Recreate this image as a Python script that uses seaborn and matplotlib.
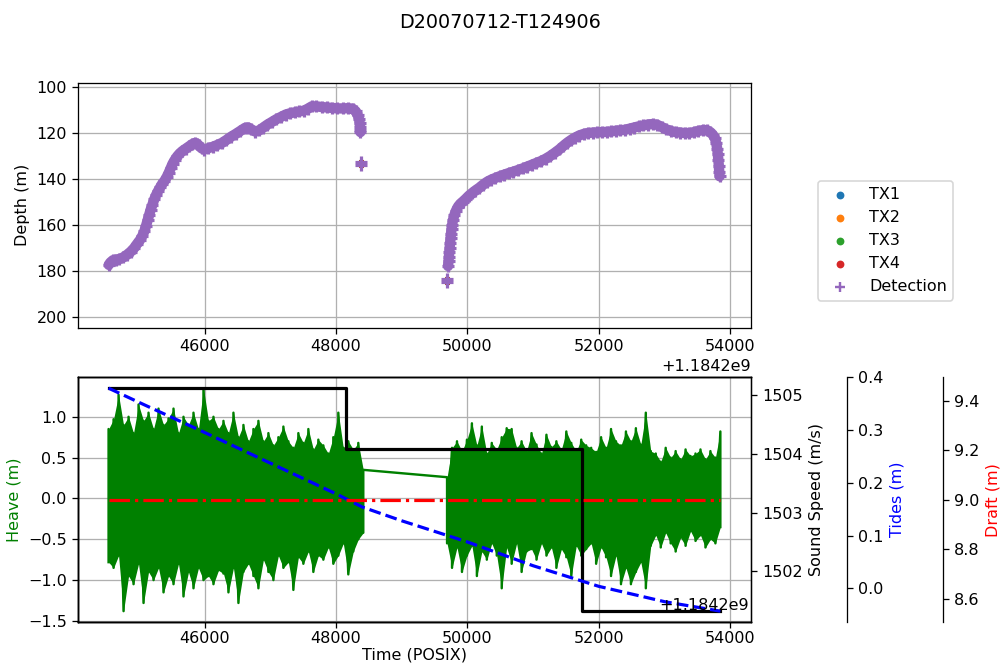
import numpy as np
import pandas as pd
import matplotlib
matplotlib.use("Agg")
import matplotlib.pyplot as plt
import seaborn as sns

TITLE = "D20070712-T124906"
OFFSET_LABEL = "+1.1842e9"   # times below are seconds after 1.1842e9 (POSIX)

# ---------------- depth profile (top panel) ----------------
seg1_t = [44537, 44560, 44600, 44650, 44700, 44760, 44820, 44870, 44920, 44970,
          45010, 45050, 45080, 45105, 45130, 45150, 45175, 45200, 45230, 45260,
          45290, 45320, 45350, 45385, 45420, 45450, 45480, 45510, 45540, 45580,
          45620, 45660, 45710, 45760, 45810, 45850, 45880, 45910, 45950, 45990,
          46050, 46120, 46190, 46260, 46330, 46400, 46470, 46540, 46610, 46660,
          46710, 46770, 46830, 46890, 46950, 47020, 47090, 47160, 47230, 47300,
          47370, 47440, 47510, 47570, 47630, 47700, 47780, 47860, 47940, 48020,
          48100, 48180, 48250, 48300, 48330, 48350, 48360, 48365, 48368, 48370]
seg1_depth = [177.5, 176.5, 175.5, 175.2, 175.0, 174.2, 173.0, 171.8, 170.3, 168.3,
              166.8, 164.8, 162.8, 160.5, 158.0, 156.0, 153.5, 151.5, 149.0, 147.0,
              145.3, 143.8, 142.3, 141.0, 139.3, 137.5, 135.5, 133.5, 132.0, 130.3,
              129.0, 128.0, 127.0, 126.0, 125.0, 124.5, 124.8, 125.6, 126.8, 127.4,
              126.8, 126.2, 125.4, 124.5, 123.2, 121.8, 120.6, 119.3, 118.0, 117.8,
              118.6, 119.6, 119.0, 117.8, 116.6, 115.4, 114.2, 113.2, 112.2, 111.6,
              111.2, 110.8, 110.5, 109.6, 108.6, 108.6, 108.9, 109.1, 109.3, 109.5,
              109.5, 109.4, 109.6, 110.8, 112.4, 114.2, 116.0, 117.5, 118.8, 119.8]
clusterA_t = [48381, 48384]
clusterA_depth = [132.8, 134.2]
clusterB_t = [49688, 49692]
clusterB_depth = [185.0, 183.6]
seg2_t = [49705, 49712, 49718, 49724, 49730, 49736, 49743, 49750,
          49758, 49768, 49780, 49800, 49825, 49855, 49890, 49930, 49975, 50020,
          50070, 50120, 50180, 50240, 50300, 50360, 50420, 50490, 50560, 50630,
          50700, 50770, 50840, 50910, 50980, 51050, 51120, 51190, 51260, 51330,
          51400, 51460, 51520, 51580, 51640, 51700, 51770, 51840, 51910, 51980,
          52050, 52120, 52190, 52260, 52330, 52400, 52470, 52540, 52610, 52680,
          52750, 52820, 52890, 52960, 53030, 53100, 53170, 53240, 53310, 53380,
          53450, 53520, 53590, 53650, 53700, 53740, 53770, 53790, 53805, 53815,
          53823, 53830, 53836, 53842]
seg2_depth = [178.0, 176.0, 174.0, 172.0, 170.0, 168.0, 166.0, 164.0,
              162.0, 160.0, 158.0, 156.0, 154.0, 152.3, 151.0, 150.0, 148.8, 147.5,
              146.3, 145.2, 144.0, 142.6, 141.4, 140.5, 139.8, 139.0, 138.3, 137.6,
              137.0, 136.3, 135.6, 134.8, 134.0, 133.2, 132.4, 131.4, 130.2, 128.8,
              127.3, 125.8, 124.4, 123.2, 122.2, 121.3, 120.6, 120.2, 120.0, 119.9,
              119.8, 119.7, 119.5, 119.2, 119.0, 118.8, 118.3, 117.8, 117.3, 116.9,
              116.5, 116.3, 116.6, 117.6, 118.6, 119.3, 119.8, 120.0, 120.2, 120.2,
              119.8, 119.3, 118.9, 119.0, 119.8, 121.0, 122.5, 124.5, 127.0, 129.5,
              132.0, 134.5, 137.0, 139.0]
tx_labels = ["TX1", "TX2", "TX3", "TX4"]
tx_colors = ["#1f77b4", "#ff7f0e", "#2ca02c", "#d62728"]
DET_COLOR = "#9467bd"

# ---------------- heave (bottom panel, per-column envelope peaks) ----------------
heave1_span = [44534, 48414]
heave1_hi = [0.85, 0.97, 1.27, 0.90, 1.00, 0.80, 1.15, 0.95, 1.05, 0.85,
             1.10, 0.90, 0.98, 1.10, 0.80, 1.00, 0.90, 1.05, 0.85, 1.35,
             0.95, 1.00, 0.85, 0.95, 0.80, 1.05, 0.75, 0.90, 0.70, 0.85,
             0.95, 0.70, 0.80, 0.65, 0.75, 0.88, 0.70, 0.62, 0.80, 0.68,
             0.85, 0.60, 0.72, 0.65, 0.55, 0.75, 1.05, 0.62, 0.70, 0.60,
             0.68, 0.35]
heave1_lo = [-0.78, -0.85, -0.70, -1.38, -0.95, -1.05, -0.80, -1.28, -0.90, -1.00,
             -0.85, -1.15, -0.95, -1.05, -0.80, -1.20, -0.90, -1.10, -0.85, -1.00,
             -0.95, -1.05, -0.88, -0.92, -1.15, -0.85, -1.28, -0.90, -0.80, -0.95,
             -1.10, -0.75, -0.90, -1.00, -0.70, -0.85, -0.78, -1.12, -0.72, -0.80,
             -0.65, -0.90, -0.70, -0.75, -0.60, -0.80, -0.70, -0.55, -0.93, -0.65,
             -0.50, -0.42]
heave2_span = [49690, 53853]
heave2_hi = [0.26, 0.62, 0.70, 0.58, 0.72, 0.92, 0.65, 0.88, 0.55, 0.68,
             0.60, 0.75, 0.86, 0.85, 0.62, 0.70, 0.58, 0.80, 0.66, 0.55,
             0.78, 0.63, 0.70, 0.60, 0.82, 0.68, 0.58, 0.72, 0.65, 0.62,
             0.57, 0.75, 0.62, 0.85, 0.70, 0.65, 0.82, 0.70, 0.86, 0.66,
             1.05, 0.58, 0.55, 0.45, 0.62, 0.50, 0.58, 0.48, 0.60, 0.52,
             0.55, 0.60, 0.48, 0.58, 0.50, 0.82]
heave2_lo = [-0.55, -0.85, -0.60, -0.90, -0.70, -0.58, -0.95, -0.65, -0.75, -0.55,
             -0.70, -1.10, -0.60, -0.80, -0.55, -0.90, -0.65, -0.62, -0.75, -0.55,
             -0.70, -0.60, -0.85, -0.62, -0.72, -0.95, -0.58, -0.70, -0.62, -0.55,
             -0.80, -0.60, -0.72, -0.95, -0.70, -1.05, -0.85, -1.05, -0.90, -0.78,
             -1.10, -0.58, -0.45, -0.60, -0.42, -0.55, -0.65, -0.48, -0.58, -0.40,
             -0.52, -0.45, -0.60, -0.50, -0.55, -0.35]

# ---------------- sound speed, tides, draft ----------------
ss_t = [44534, 48149, 51739, 53853]
ss_v = [1505.12, 1504.09, 1501.32, 1501.32]
tide_t = [44534, 45000, 46000, 47000, 48000, 48400, 49000, 50000, 51000, 52000, 53000, 53853]
tide_v = [0.379, 0.352, 0.295, 0.237, 0.179, 0.154, 0.128, 0.088, 0.043, 0.004, -0.025, -0.043]
draft_t = [44534, 53853]
draft_v = [9.0, 9.0]

# ---------------- figure ----------------
DPI = 115
fig = plt.figure(figsize=(1001 / DPI, 666 / DPI), dpi=DPI)
fig.suptitle(TITLE, fontsize=12)

ax1 = fig.add_axes([0.0779, 0.508, 0.6723, 0.3679])
ax2 = fig.add_axes([0.0779, 0.0656, 0.6723, 0.3683], sharex=ax1)

all_t = seg1_t + clusterA_t + clusterB_t + seg2_t
all_d = seg1_depth + clusterA_depth + clusterB_depth + seg2_depth
depth_df = pd.DataFrame({"t": all_t, "depth": all_d})

# dense detection track (thousands of overlapping detections form a solid band)
for tt, dd in [(seg1_t, seg1_depth), (seg2_t, seg2_depth)]:
    sns.lineplot(x=tt, y=dd, ax=ax1, color=DET_COLOR, lw=6.5, sort=False,
                 estimator=None, solid_capstyle="round", solid_joinstyle="round",
                 zorder=2.5)

for lab, col in zip(tx_labels, tx_colors):
    sns.scatterplot(data=depth_df, x="t", y="depth", ax=ax1, color=col, s=14,
                    linewidth=0, label=lab, zorder=2)
sns.scatterplot(data=depth_df, x="t", y="depth", ax=ax1, color=DET_COLOR, s=62,
                marker="+", linewidth=2.0, label="Detection", zorder=3)
ax1.set_ylim(204.8, 98.3)
ax1.set_xlim(44068, 54319)
ax1.set_ylabel("Depth (m)")
ax1.set_xlabel("")
ax1.grid(True)
ax1.set_axisbelow(True)
ax1.tick_params(labelbottom=True)
handles, labels = ax1.get_legend_handles_labels()
keep = [i for i, l in enumerate(labels) if l in tx_labels + ["Detection"]]
leg = ax1.legend([handles[i] for i in keep], [labels[i] for i in keep],
                 loc="center left", bbox_to_anchor=(1.0996, 0.355), borderaxespad=0)
for h in leg.legend_handles[:4]:
    h.set_sizes([24])
leg.legend_handles[4].set_sizes([45])
leg.legend_handles[4].set_linewidths([1.5])
ax1.text(1.0, -0.16, OFFSET_LABEL, transform=ax1.transAxes, ha="right", va="center")


def build(span, first, second):
    cols = np.linspace(span[0], span[1], len(first))
    vals = np.ravel(np.column_stack([first, second]))
    return cols, np.repeat(cols, 2), vals


c1, t1, v1 = build(heave1_span, heave1_lo, heave1_hi)
c2, t2, v2 = build(heave2_span, heave2_hi, heave2_lo)
ax2.fill_between(c1, heave1_lo, heave1_hi, color="green", lw=0, zorder=2)
ax2.fill_between(c2, heave2_lo, heave2_hi, color="green", lw=0, zorder=2)
heave_df = pd.DataFrame({"t": np.concatenate([t1, t2]), "heave": np.concatenate([v1, v2])})
sns.lineplot(data=heave_df, x="t", y="heave", ax=ax2, color="green", lw=1.5,
             sort=False, estimator=None, zorder=2.2)
ax2.set_ylabel("Heave (m)", color="green")
ax2.set_xlabel("Time (POSIX)", labelpad=1)
ax2.tick_params(axis="x", pad=2)
ax2.grid(True)

ax_ss = ax2.twinx()
sns.lineplot(x=ss_t, y=ss_v, ax=ax_ss, color="black", lw=2, drawstyle="steps-post",
             estimator=None)
ax_ss.set_ylabel("Sound Speed (m/s)", color="black")

ax_tide = ax2.twinx()
ax_tide.spines["right"].set_position(("outward", 60))
sns.lineplot(x=tide_t, y=tide_v, ax=ax_tide, color="blue", lw=2, linestyle="--",
             estimator=None)
ax_tide.set_ylabel("Tides (m)", color="blue")

ax_draft = ax2.twinx()
ax_draft.spines["right"].set_position(("outward", 120))
sns.lineplot(x=draft_t, y=draft_v, ax=ax_draft, color="red", lw=2, linestyle="-.",
             estimator=None)
ax_draft.set_ylabel("Draft (m)", color="red")
ax_draft.text(0.997, 0.068, OFFSET_LABEL, transform=ax2.transAxes, ha="right", va="center")

ax2.set_xlim(44068, 54319)
fig.savefig("out.png", dpi=DPI)
